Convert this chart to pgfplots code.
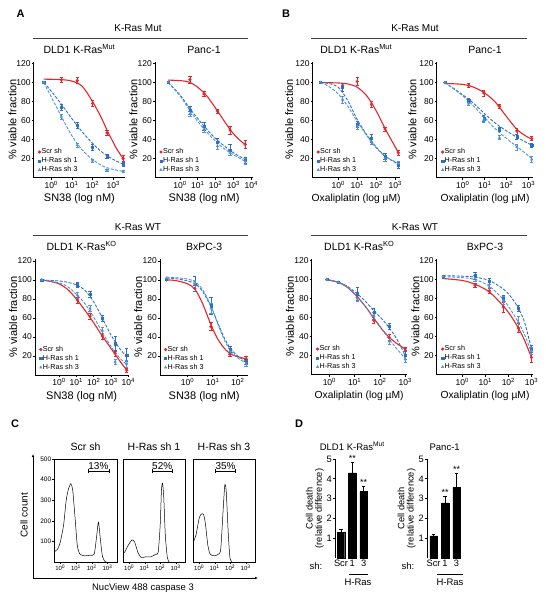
\documentclass[border=0pt]{standalone}
\usepackage{pgfplots}
\pgfplotsset{compat=1.18}
\usepackage{fontspec}
\setmainfont{Liberation Sans}
\usetikzlibrary{arrows.meta}
\definecolor{cred}{RGB}{228,38,42}
\definecolor{cblue}{RGB}{45,112,192}
\definecolor{cblue3}{RGB}{80,148,215}
\newcommand{\fs}[1]{\fontsize{#1}{#1}\selectfont}
\newcommand{\tenp}[1]{10\textsuperscript{#1}}
\pgfplotsset{
  dose/.style={scale only axis, anchor=south west, axis x line*=bottom, axis y line*=left,
    ytick={20,40,60,80,100,120}, tick align=outside, major tick length=2pt,
    axis line style={line width=0.8pt,-}, every tick/.style={line width=0.7pt, black},
    /pgf/number format/assume math mode=true,
    tick label style={font=\fs{8.5}}, yticklabel style={inner sep=1pt},
    xticklabel style={inner sep=1.5pt},
    ylabel style={font=\fs{11}, at={(axis description cs:#1,0.5)}, anchor=center},
    xlabel style={at={(axis description cs:0.5,0)}, anchor=center, yshift=-21.5pt},
    title style={font=\fs{10.5}, inner sep=1pt, yshift=1pt},
    ylabel={\% viable fraction}, clip=false,
    legend style={at={(0.045,0.03)}, anchor=south west, draw=none, fill=none,
      font=\fs{7.2}, row sep=1pt, inner sep=0pt, nodes={inner sep=0.6pt}},
    legend image code/.code={\draw[##1] plot coordinates {(1.8pt,0pt)};},
    legend cell align=left},
  sn/.style={xlabel={SN38 (log nM)}, xlabel style={font=\fs{11}}},
  ox/.style={xlabel={Oxaliplatin (log µM)}, xlabel style={font=\fs{10.3}}},
  scrp/.style={only marks, mark=*, mark size=1.4pt, color=cred, mark options={fill=cred, draw=cred},
    error bars/.cd, y dir=both, y explicit, error bar style={line width=0.6pt, color=cred},
    error mark options={rotate=90, mark size=1.6pt, line width=0.6pt, color=cred}},
  sh1p/.style={only marks, mark=square*, mark size=1.1pt, color=cblue, mark options={fill=cblue, draw=cblue},
    error bars/.cd, y dir=both, y explicit, error bar style={line width=0.6pt, color=cblue},
    error mark options={rotate=90, mark size=1.6pt, line width=0.6pt, color=cblue}},
  sh3p/.style={only marks, mark=triangle*, mark size=1.4pt, color=cblue3, mark options={fill=cblue3, draw=cblue3},
    error bars/.cd, y dir=both, y explicit, error bar style={line width=0.6pt, color=cblue3},
    error mark options={rotate=90, mark size=1.6pt, line width=0.6pt, color=cblue3}},
  scrc/.style={no markers, color=cred, line width=1.1pt, smooth, forget plot},
  sh1c/.style={no markers, color=cblue, line width=0.9pt, dash pattern=on 3pt off 1.5pt, smooth, forget plot},
  sh3c/.style={no markers, color=cblue3, line width=0.9pt, dash pattern=on 3pt off 1.5pt, smooth, forget plot},
  hist/.style={scale only axis, anchor=south west, height=103pt, xmin=-0.4, xmax=3.6, ymin=0, ymax=500,
    axis line style={line width=0.5pt}, xtick={0,1,2,3}, xticklabels={\tenp{0},\tenp{1},\tenp{2},\tenp{3}},
    minor xtick={-0.398,-0.301,-0.222,-0.155,-0.097,-0.046,0.301,0.477,0.602,0.699,0.778,0.845,0.903,0.954,1.301,1.477,1.602,1.699,1.778,1.845,1.903,1.954,2.301,2.477,2.602,2.699,2.778,2.845,2.903,2.954,3.301,3.477},
    xtick pos=bottom, ytick pos=left, tick align=outside, major tick length=1.6pt, minor tick length=1pt,
    every tick/.style={black, line width=0.4pt}, tick label style={font=\fs{6}},
    xticklabel style={inner sep=1pt}, ytick=\empty,
    /pgf/number format/assume math mode=true,
    title style={font=\fs{10.5}, inner sep=1pt, yshift=1pt}, clip=false},
  bars/.style={scale only axis, anchor=south west, height=99pt, ymin=0, ymax=5, ybar, bar width=7.5pt,
    axis y line*=left, axis x line*=bottom, x axis line style={draw=none}, xtick style={draw=none},
    axis line style={line width=0.8pt,-}, ytick={1,2,3,4,5}, tick align=outside, major tick length=2pt,
    every tick/.style={line width=0.7pt, black}, xtick={0,1,2}, xticklabels={Scr,1,3},
    /pgf/number format/assume math mode=true,
    tick label style={font=\fs{9.3}}, yticklabel style={inner sep=1pt}, xticklabel style={inner sep=1pt, yshift=1pt},
    ylabel style={font=\fs{9.3}, align=center, inner sep=0pt, at={(axis description cs:-0.58,0.5)}, anchor=center},
    ylabel={Cell death\\(relative difference)},
    title style={font=\fs{9.5}, inner sep=1pt, yshift=1pt}, clip=false}
}
\begin{document}
\begin{tikzpicture}
\useasboundingbox (0,0) rectangle (546pt,-600pt);
% panel letters and headers
\node[font=\bfseries\fs{11}] at (20.5pt,-13.5pt) {A};
\node[font=\bfseries\fs{11}] at (286pt,-13.5pt) {B};
\node[font=\bfseries\fs{11}] at (15pt,-424pt) {C};
\node[font=\bfseries\fs{11}] at (299pt,-424pt) {D};
\node[font=\fs{10}] at (138pt,-28pt) {K-Ras Mut};
\draw[line width=1.3pt, black!75] (33pt,-38.3pt) -- (248pt,-38.3pt);
\node[font=\fs{10}] at (415pt,-28pt) {K-Ras Mut};
\draw[line width=1.3pt, black!75] (311pt,-38.3pt) -- (527pt,-38.3pt);
\node[font=\fs{10}] at (138pt,-227pt) {K-Ras WT};
\draw[line width=1.3pt, black!75] (33pt,-235.5pt) -- (248pt,-235.5pt);
\node[font=\fs{10}] at (415pt,-227pt) {K-Ras WT};
\draw[line width=1.3pt, black!75] (311pt,-235.5pt) -- (527pt,-235.5pt);

% ---------- A top left
\begin{axis}[dose=-0.235, sn, at={(33.8pt,-177.5pt)}, width=91.2pt, height=115.9pt, xmin=-0.84, xmax=3.57, ymin=0, ymax=122,
  xtick={0,1,2,3}, xticklabels={\tenp{0},\tenp{1},\tenp{2},\tenp{3}},
  title={DLD1 K-Ras\textsuperscript{Mut}}]
\addplot[scrc] coordinates {(-0.36,103.5)(0,103.4)(0.5,103)(1,101.5)(1.5,96)(2,80)(2.4,64)(2.7,50)(3,37)(3.2,29)(3.48,20)};
\addplot[sh1c] coordinates {(-0.36,100)(0,91)(0.5,77)(1,62)(1.5,48)(2,36)(2.5,26)(3,19)(3.48,14)};
\addplot[sh3c] coordinates {(-0.36,100)(0,85)(0.5,64)(1,44)(1.5,29)(2,19)(2.5,12)(3,8.5)(3.48,6.5)};
\addplot[scrp] table[y error index=2] {
0.49 103 3
1.26 102 3
2.0 78 3
2.7 47 3
3.48 20 3
};
\addlegendentry{Scr sh}
\addplot[sh1p] table[y error index=2] {
-0.36 100 0
0.49 74 3
1.26 55 3
2.0 32 3
2.7 22 2
3.48 14 2
};
\addlegendentry{H-Ras sh 1}
\addplot[sh3p] table[y error index=2] {
-0.36 100 0
0.49 64 3
1.26 34 2
2.0 18 1.5
2.7 8 1
3.48 6.5 1
};
\addlegendentry{H-Ras sh 3}
\end{axis}

% ---------- A top right
\begin{axis}[dose=-0.22, sn, at={(155pt,-177.5pt)}, width=98pt, height=115.9pt, xmin=-1.4, xmax=4.1, ymin=0, ymax=122,
  xtick={0,1,2,3,4}, xticklabels={\tenp{0},\tenp{1},\tenp{2},\tenp{3},\tenp{4}},
  title={Panc-1}]
\addplot[scrc] coordinates {(-0.66,102.5)(0,102)(0.5,100.5)(1,95)(1.5,86)(2,73)(2.5,59)(3,46)(3.5,37)(3.66,35)};
\addplot[sh1c] coordinates {(-0.66,100)(0,87)(0.5,74)(1,62)(1.5,51)(2,41)(2.5,33)(3,26)(3.66,19)};
\addplot[sh3c] coordinates {(-0.66,100)(0,86)(0.5,72)(1,59)(1.5,48)(2,38)(2.5,30)(3,24)(3.66,17)};
\addplot[scrp] table[y error index=2] {
0.56 103 4
1.35 88 3
2.1 70 2
2.81 50 4
3.66 35 4
};
\addlegendentry{Scr sh}
\addplot[sh1p] table[y error index=2] {
-0.66 100 0
0.56 71 4
1.35 54 4
2.1 37 4
2.81 29 6
3.66 18 3
};
\addlegendentry{H-Ras sh 1}
\addplot[sh3p] table[y error index=2] {
-0.66 100 0
0.56 67 3
1.35 51 3
2.1 33 3
2.81 26 3
3.66 17 3
};
\addlegendentry{H-Ras sh 3}
\end{axis}

% ---------- B top left
\begin{axis}[dose=-0.27, ox, at={(312.7pt,-177.5pt)}, width=87pt, height=115.9pt, xmin=-1.34, xmax=3.23, ymin=0, ymax=122,
  xtick={0,1,2,3}, xticklabels={\tenp{0},\tenp{1},\tenp{2},\tenp{3}},
  title={DLD1 K-Ras\textsuperscript{Mut}}]
\addplot[scrc] coordinates {(-0.93,100)(0,99.5)(0.5,98.5)(1,95)(1.5,86)(2,70)(2.5,50)(3,32)(3.16,26)};
\addplot[sh1c] coordinates {(-0.93,100)(-0.5,99)(0,95)(0.5,81)(1,61)(1.5,45)(2,32)(2.5,22)(3.16,14)};
\addplot[sh3c] coordinates {(-0.93,100)(-0.5,96)(0,88)(0.5,75)(1,59)(1.5,44)(2,31)(2.5,22)(3.16,15)};
\addplot[scrp] table[y error index=2] {
0.23 97 2
1.0 101 4
1.75 77 3
2.46 51 2
3.16 26 3
};
\addlegendentry{Scr sh}
\addplot[sh1p] table[y error index=2] {
-0.93 100 0
0.23 95 4
1.0 56 3
1.75 41 4
2.46 22 3
3.16 13 3
};
\addlegendentry{H-Ras sh 1}
\addplot[sh3p] table[y error index=2] {
-0.93 100 0
0.23 82 4
1.0 54 3
1.75 38 3
2.46 20 3
3.16 15 2
};
\addlegendentry{H-Ras sh 3}
\end{axis}

% ---------- B top right
\begin{axis}[dose=-0.25, ox, at={(436.7pt,-177.5pt)}, width=96.6pt, height=115.9pt, xmin=-1.19, xmax=3.22, ymin=0, ymax=122,
  xtick={0,1,2,3}, xticklabels={\tenp{0},\tenp{1},\tenp{2},\tenp{3}},
  title={Panc-1}]
\addplot[scrc] coordinates {(-0.81,99)(0,98)(0.5,95)(1,89)(1.5,79)(2,64)(2.5,50)(3,42)(3.15,41)};
\addplot[sh1c] coordinates {(-0.81,100)(0,87)(0.5,78)(1,67)(1.5,57)(2,49)(2.5,42)(3.15,34)};
\addplot[sh3c] coordinates {(-0.81,100)(0,86)(0.5,75)(1,63)(1.5,51)(2,41)(2.5,32)(3.15,20)};
\addplot[scrp] table[y error index=2] {
0.27 97 2
0.96 89 3
1.67 75 2
2.47 49 3
3.15 41 2
};
\addlegendentry{Scr sh}
\addplot[sh1p] table[y error index=2] {
-0.81 100 0
0.27 81 2
0.96 62 3
1.67 51 2
2.47 43 3
3.15 34 2
};
\addlegendentry{H-Ras sh 1}
\addplot[sh3p] table[y error index=2] {
-0.81 100 0
0.27 78 2
0.96 61 3
1.67 42 2
2.47 32 3
3.15 19 3
};
\addlegendentry{H-Ras sh 3}
\end{axis}

% ---------- A bottom left
\begin{axis}[dose=-0.233, sn, at={(35pt,-375pt)}, width=93.3pt, height=115.9pt, xmin=-1.39, xmax=4.0, ymin=0, ymax=122,
  xtick={0,1,2,3,4}, xticklabels={\tenp{0},\tenp{1},\tenp{2},\tenp{3},\tenp{4}},
  title={DLD1 K-Ras\textsuperscript{KO}}]
\addplot[scrc] coordinates {(-1,100)(-0.5,98.5)(0,96)(0.5,90)(1,80)(1.5,68)(2,55)(2.5,41)(3,28)(3.5,15)(3.91,5)};
\addplot[sh1c] coordinates {(-1,100)(0,99)(0.5,97.5)(1,95)(1.5,89)(2,77)(2.5,60)(3,42)(3.5,28)(3.91,19)};
\addplot[sh3c] coordinates {(-1,100)(0,97)(0.5,93)(1,85)(1.5,75)(2,61)(2.5,45)(3,30)(3.5,18)(3.91,11)};
\addplot[scrp] table[y error index=2] {
-1.0 100 0
1.06 79 3
1.79 62 3
2.5 41 3
3.24 23 3
3.91 5 2
};
\addlegendentry{Scr sh}
\addplot[sh1p] table[y error index=2] {
-1.0 100 0
1.06 95 3
1.79 85 3
2.5 60 3
3.24 33 8
3.91 21 7
};
\addlegendentry{H-Ras sh 1}
\addplot[sh3p] table[y error index=2] {
-1.0 100 0
1.06 84 3
1.79 70 3
2.5 47 3
3.24 14 3
3.91 12 4
};
\addlegendentry{H-Ras sh 3}
\end{axis}

% ---------- A bottom right
\begin{axis}[dose=-0.246, sn, at={(160pt,-375pt)}, width=88.3pt, height=115.9pt, xmin=-1.1, xmax=2.42, ymin=0, ymax=122,
  xtick={0,1,2}, xticklabels={\tenp{0},\tenp{1},\tenp{2}},
  title={BxPC-3}]
\addplot[scrc] coordinates {(-0.84,100)(-0.5,99.5)(0,96)(0.3,90)(0.6,75)(0.93,53)(1.2,38)(1.5,27)(1.8,21)(2.33,17)};
\addplot[sh1c] coordinates {(-0.84,102)(-0.5,101.5)(0,99)(0.3,96)(0.6,88)(0.93,72)(1.2,55)(1.5,37)(1.8,25)(2.1,18)(2.33,15)};
\addplot[sh3c] coordinates {(-0.84,103)(-0.5,102.5)(0,101)(0.3,98)(0.6,90)(0.93,73)(1.2,54)(1.5,35)(1.8,23)(2.1,16)(2.33,13)};
\addplot[scrp] table[y error index=2] {
-0.84 100 0
0.29 91 3
0.93 51 4
1.69 22 2
2.33 17 3
};
\addlegendentry{Scr sh}
\addplot[sh1p] table[y error index=2] {
-0.84 101 0
0.29 96 8
0.93 73 9
1.69 27 3
2.33 14 3
};
\addlegendentry{H-Ras sh 1}
\addplot[sh3p] table[y error index=2] {
-0.84 102 0
0.29 96 4
0.93 70 5
1.69 25 3
2.33 12 3
};
\addlegendentry{H-Ras sh 3}
\end{axis}

% ---------- B bottom left
\begin{axis}[dose=-0.228, ox, at={(311.7pt,-374.5pt)}, width=95pt, height=115.9pt, xmin=-0.7, xmax=3.06, ymin=0, ymax=122,
  xtick={0,1,2,3}, xticklabels={\tenp{0},\tenp{1},\tenp{2},\tenp{3}},
  title={DLD1 K-Ras\textsuperscript{KO}}]
\addplot[scrc] coordinates {(-0.1,100)(0.36,97)(0.7,92)(1.1,82)(1.5,69)(1.76,59)(2.1,47)(2.37,39)(2.7,32)(3.0,27)};
\addplot[sh1c] coordinates {(-0.1,100)(0.36,97)(0.7,93)(1.1,85)(1.5,75)(1.76,67)(2.1,58)(2.37,49)(2.7,36)(3.0,20)};
\addplot[sh3c] coordinates {(-0.1,100)(0.36,97)(0.7,92)(1.1,82)(1.5,69)(1.76,60)(2.1,47)(2.37,37)(2.7,26)(3.0,17)};
\addplot[scrp] table[y error index=2] {
-0.1 100 0
0.36 97 1
1.1 81 3
1.76 57 3
2.37 39 3
3.0 27 2
};
\addlegendentry{Scr sh}
\addplot[sh1p] table[y error index=2] {
-0.1 100 0
0.36 97 1
1.1 85 7
1.76 66 4
2.37 51 3
3.0 20 4
};
\addlegendentry{H-Ras sh 1}
\addplot[sh3p] table[y error index=2] {
-0.1 100 0
0.36 97 1
1.1 80 3
1.76 62 4
2.37 35 3
3.0 16 3
};
\addlegendentry{H-Ras sh 3}
\end{axis}

% ---------- B bottom right
\begin{axis}[dose=-0.22, ox, at={(436.7pt,-374.5pt)}, width=96.6pt, height=115.9pt, xmin=-1.11, xmax=3.08, ymin=0, ymax=122,
  xtick={0,1,2,3}, xticklabels={\tenp{0},\tenp{1},\tenp{2},\tenp{3}},
  title={BxPC-3}]
\addplot[scrc] coordinates {(-0.83,101)(0,99)(0.55,95)(1.17,87)(1.78,72)(2.1,62)(2.43,49)(2.7,36)(3.0,18)};
\addplot[sh1c] coordinates {(-0.83,104)(0,103.5)(0.55,102.5)(1.17,99)(1.78,90)(2.1,82)(2.43,70)(2.7,55)(3.0,27)};
\addplot[sh3c] coordinates {(-0.83,103)(0,102)(0.55,100)(1.17,93)(1.78,79)(2.1,68)(2.43,55)(2.7,42)(3.0,23)};
\addplot[scrp] table[y error index=2] {
0.55 94 2
1.17 88 3
1.78 71 5
2.43 49 5
3.0 18 5
};
\addlegendentry{Scr sh}
\addplot[sh1p] table[y error index=2] {
-0.83 103 0
0.55 104 4
1.17 98 3
1.78 80 3
2.43 70 3
3.0 27 4
};
\addlegendentry{H-Ras sh 1}
\addplot[sh3p] table[y error index=2] {
-0.83 103 0
0.55 101 3
1.17 92 3
1.78 78 4
2.43 55 6
3.0 25 4
};
\addlegendentry{H-Ras sh 3}
\end{axis}

% ---------- C histograms
\draw[line width=0.5pt, -{Latex[length=3pt,width=2.4pt]}] (33pt,-578pt) -- (33pt,-454pt);
\draw[line width=0.5pt, -{Latex[length=3pt,width=2.4pt]}] (33pt,-578pt) -- (258pt,-578pt);
\node[font=\fs{10}, rotate=90] at (24pt,-515pt) {Cell count};
\node[font=\fs{9.5}] at (143pt,-588pt) {NucView 488 caspase 3};

\begin{axis}[hist, at={(54pt,-562pt)}, width=63pt, ytick={100,200,300,400,500}, yticklabel style={font=\fs{6.5}, inner sep=1pt}, title={Scr sh}]
\addplot[black, line width=0.5pt, smooth, tension=0.4] coordinates {(-0.37,50)(-0.17,63)(0,97)(0.21,180)(0.37,297)(0.52,355)(0.67,380)(0.79,347)(0.94,213)(1.08,80)(1.25,38)(1.56,30)(1.88,33)(2.15,38)(2.29,113)(2.42,193)(2.54,113)(2.67,30)(2.81,5)(2.92,0)};
\addplot[black, line width=0.6pt, {Bar[width=4pt]}-{Bar[width=4pt]}] coordinates {(1.75,440)(3.1,440)};
\node[font=\fs{10}, anchor=south, inner sep=1pt] at (axis cs:2.42,445) {13\%};
\end{axis}
\begin{axis}[hist, at={(123pt,-562pt)}, width=62pt, title={H-Ras sh 1}]
\addplot[black, line width=0.5pt, smooth, tension=0.4] coordinates {(-0.38,45)(-0.3,47)(-0.07,80)(0.18,107)(0.35,97)(0.56,47)(0.77,22)(1.08,25)(1.4,25)(1.71,38)(1.87,47)(2.0,180)(2.08,347)(2.15,383)(2.23,313)(2.33,130)(2.46,22)(2.58,0)};
\addplot[black, line width=0.6pt, {Bar[width=4pt]}-{Bar[width=4pt]}] coordinates {(1.47,440)(2.8,440)};
\node[font=\fs{10}, anchor=south, inner sep=1pt] at (axis cs:2.13,445) {52\%};
\end{axis}
\begin{axis}[hist, at={(193pt,-562pt)}, width=62pt, title={H-Ras sh 3}]
\addplot[black, line width=0.5pt, smooth, tension=0.4] coordinates {(-0.38,97)(-0.21,130)(0,213)(0.14,233)(0.29,230)(0.41,180)(0.56,80)(0.71,38)(0.98,30)(1.24,38)(1.39,63)(1.54,247)(1.65,372)(1.74,347)(1.87,147)(1.98,22)(2.12,0)};
\addplot[black, line width=0.6pt, {Bar[width=4pt]}-{Bar[width=4pt]}] coordinates {(1.04,440)(2.35,440)};
\node[font=\fs{10}, anchor=south, inner sep=1pt] at (axis cs:1.7,445) {35\%};
\end{axis}

% ---------- D bars
\begin{axis}[bars, at={(335pt,-558pt)}, width=34.6pt, xmin=-0.53, xmax=2.53, title={DLD1 K-Ras\textsuperscript{Mut}}]
\addplot[fill=black, draw=black, error bars/.cd, y dir=plus, y explicit, error bar style={line width=0.7pt, black},
  error mark options={rotate=90, mark size=1.8pt, line width=0.7pt, black}]
  coordinates {(0,1.28) +- (0,0.17) (1,4.3) +- (0,0.55) (2,3.35) +- (0,0.27)};
\node[font=\fs{9}, anchor=south, inner sep=0.5pt] at (axis cs:1,4.85) {**};
\node[font=\fs{9}, anchor=south, inner sep=0.5pt] at (axis cs:2,3.62) {**};
\end{axis}
\begin{axis}[bars, at={(427pt,-558pt)}, width=35.3pt, xmin=-0.57, xmax=2.5, title={Panc-1}]
\addplot[fill=black, draw=black, error bars/.cd, y dir=plus, y explicit, error bar style={line width=0.7pt, black},
  error mark options={rotate=90, mark size=1.8pt, line width=0.7pt, black}]
  coordinates {(0,1.12) +- (0,0.06) (1,2.78) +- (0,0.32) (2,3.57) +- (0,0.73)};
\node[font=\fs{9}, anchor=south, inner sep=0.5pt] at (axis cs:1,3.1) {**};
\node[font=\fs{9}, anchor=south, inner sep=0.5pt] at (axis cs:2,4.3) {**};
\end{axis}
\node[font=\fs{9.5}] at (316pt,-566.5pt) {sh:};
\node[font=\fs{9.5}] at (408pt,-566.5pt) {sh:};
\draw[line width=0.6pt] (349pt,-574pt) -- (368pt,-574pt);
\draw[line width=0.6pt] (437pt,-574pt) -- (463pt,-574pt);
\node[font=\fs{9.5}] at (358pt,-582.5pt) {H-Ras};
\node[font=\fs{9.5}] at (450pt,-582.5pt) {H-Ras};
\end{tikzpicture}
\end{document}
